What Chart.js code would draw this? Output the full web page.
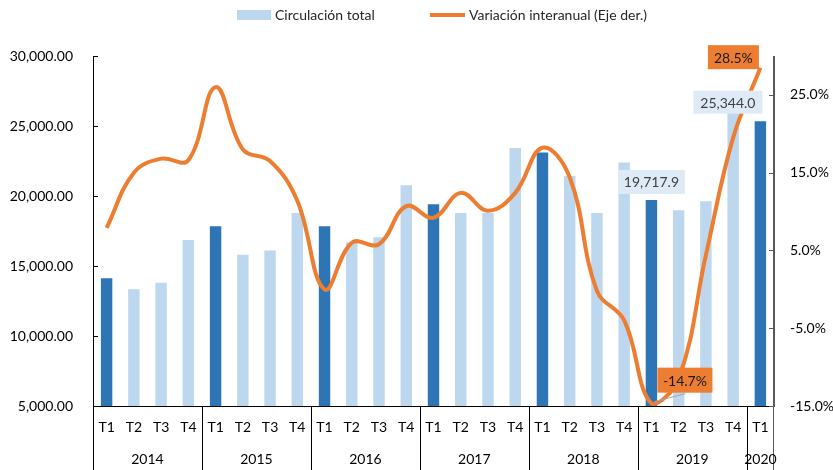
<!DOCTYPE html>
<html>
<head>
<meta charset="utf-8">
<script src="https://cdn.jsdelivr.net/npm/chart.js@4"></script>
<style>
  html, body { margin: 0; padding: 0; background: #fff; }
  #wrap { width: 833px; height: 470px; }
</style>
</head>
<body>
<div id="wrap"><canvas id="chart" width="833" height="470"></canvas></div>
<script>
// quarters per year, the last year only has T1
const years = ["2014", "2015", "2016", "2017", "2018", "2019", "2020"];
const quartersPerYear = [4, 4, 4, 4, 4, 4, 1];
const quarters = ["T1", "T2", "T3", "T4", "T1", "T2", "T3", "T4", "T1", "T2", "T3", "T4",
  "T1", "T2", "T3", "T4", "T1", "T2", "T3", "T4", "T1", "T2", "T3", "T4", "T1"];

// Circulación total (left axis)
const circulacion = [14120, 13340, 13810, 16860, 17840, 15810, 16100, 18790,
  17840, 16670, 17050, 20760, 19410, 18790, 18790, 23430,
  23110, 21430, 18790, 22390, 19717.9, 18980, 19620, 26750, 25344.0];

// Variación interanual % (right axis)
const variacion = [7.9, 15.0, 16.8, 16.6, 26.0, 18.0, 16.5, 11.4,
  0.0, 6.0, 5.8, 10.7, 9.2, 12.4, 10.1, 12.4,
  18.2, 14.4, -0.2, -4.0, -14.7, -11.5, 4.4, 19.5, 28.5];

const leftTicks = [5000, 10000, 15000, 20000, 25000, 30000];
const rightTicks = [-15, -5, 5, 15, 25];

const DARK = "#2E75B6", LIGHT = "#BDD7EE", ORANGE = "#ED7D31";
const FONT = "Lato, 'Open Sans', sans-serif";

const barColors = quarters.map(q => q === "T1" ? DARK : LIGHT);

function boxLabel(ctx, text, cx, cy, w, h, fill, color) {
  ctx.fillStyle = fill;
  ctx.fillRect(cx - w / 2, cy - h / 2, w, h);
  ctx.fillStyle = color;
  ctx.textAlign = "center";
  ctx.textBaseline = "middle";
  ctx.fillText(text, cx, cy + 1);
}

const extras = {
  id: "extras",
  afterDraw(chart) {
    const ctx = chart.ctx;
    const x = chart.scales.x, y = chart.scales.y, y1 = chart.scales.y1;
    const area = chart.chartArea;
    ctx.save();
    ctx.font = "14px " + FONT;

    // legend
    ctx.fillStyle = LIGHT;
    ctx.fillRect(237, 10, 34, 10);
    ctx.fillStyle = "#262626";
    ctx.textAlign = "left";
    ctx.textBaseline = "middle";
    ctx.fillText("Circulación total", 275, 15);
    ctx.strokeStyle = ORANGE;
    ctx.lineWidth = 4;
    ctx.beginPath();
    ctx.moveTo(430, 15);
    ctx.lineTo(465, 15);
    ctx.stroke();
    ctx.fillStyle = "#262626";
    ctx.fillText("Variación interanual (Eje der.)", 469, 15);

    // axis lines going down through the category area, and inner tick marks
    ctx.lineWidth = 1;
    ctx.strokeStyle = "#000";
    ctx.beginPath();
    ctx.moveTo(area.left + 0.5, area.top);
    ctx.lineTo(area.left + 0.5, chart.height);
    leftTicks.forEach(v => {
      const py = Math.round(y.getPixelForValue(v)) + 0.5;
      ctx.moveTo(area.left, py);
      ctx.lineTo(area.left + 5, py);
    });
    ctx.stroke();

    ctx.strokeStyle = "#595959";
    ctx.beginPath();
    ctx.moveTo(area.right - 0.5, area.top);
    ctx.lineTo(area.right - 0.5, chart.height);
    rightTicks.forEach(v => {
      const py = Math.round(y1.getPixelForValue(v)) + 0.5;
      ctx.moveTo(area.right - 5, py);
      ctx.lineTo(area.right, py);
    });
    ctx.stroke();

    // year separators and year labels
    const step = (area.right - area.left) / quarters.length;
    ctx.strokeStyle = "#000";
    ctx.fillStyle = "#000";
    ctx.textAlign = "center";
    let idx = 0;
    years.forEach((yr, i) => {
      const x0 = area.left + idx * step;
      const x1 = x0 + quartersPerYear[i] * step;
      if (i > 0) {
        ctx.beginPath();
        ctx.moveTo(Math.round(x0) + 0.5, area.bottom);
        ctx.lineTo(Math.round(x0) + 0.5, chart.height);
        ctx.stroke();
      }
      ctx.fillText(yr, (x0 + x1) / 2, 459);
      idx += quartersPerYear[i];
    });

    // data labels
    const i19 = 20, i20 = 24;
    const bx19 = x.getPixelForValue(i19), by19 = y.getPixelForValue(circulacion[i19]);
    boxLabel(ctx, circulacion[i19].toLocaleString("en-US", { minimumFractionDigits: 1 }),
      bx19, by19 - 18, 67, 24, "#DEEBF7", "#404040");
    const bx20 = x.getPixelForValue(i20), by20 = y.getPixelForValue(circulacion[i20]);
    boxLabel(ctx, circulacion[i20].toLocaleString("en-US", { minimumFractionDigits: 1 }),
      bx20 - 32.5, by20 - 19, 69, 23, "#DEEBF7", "#404040");

    const ly19 = y1.getPixelForValue(variacion[i19]);
    ctx.strokeStyle = "#A6A6A6";
    ctx.lineWidth = 1;
    ctx.beginPath();
    ctx.moveTo(bx19 + 3, ly19 - 2);
    ctx.lineTo(bx19 + 34, ly19 - 10);
    ctx.stroke();
    boxLabel(ctx, variacion[i19].toFixed(1) + "%", bx19 + 33.5, ly19 - 23.5, 55, 25, ORANGE, "#1a1a1a");
    const ly20 = y1.getPixelForValue(variacion[i20]);
    boxLabel(ctx, variacion[i20].toFixed(1) + "%", bx20 - 27, ly20 - 10.5, 51, 24, ORANGE, "#1a1a1a");
    ctx.restore();
  }
};

new Chart(document.getElementById("chart"), {
  data: {
    labels: quarters,
    datasets: [
      {
        type: "line",
        label: "Variación interanual (Eje der.)",
        data: variacion,
        yAxisID: "y1",
        borderColor: ORANGE,
        borderWidth: 4,
        pointRadius: 0,
        tension: 0.4,
        clip: false,
        order: 0
      },
      {
        type: "bar",
        label: "Circulación total",
        data: circulacion,
        yAxisID: "y",
        backgroundColor: barColors,
        categoryPercentage: 1,
        barPercentage: 0.42,
        order: 1
      }
    ]
  },
  options: {
    responsive: false,
    animation: false,
    devicePixelRatio: 1,
    layout: { padding: { top: 56, left: 0, right: 0, bottom: 0 } },
    plugins: { legend: { display: false }, tooltip: { enabled: false } },
    scales: {
      x: {
        grid: { display: false, drawTicks: false },
        border: { color: "#000", width: 1 },
        ticks: { color: "#000", font: { family: FONT, size: 14 }, padding: 13, maxRotation: 0, autoSkip: false },
        afterFit: s => { s.height = 64; }
      },
      y: {
        position: "left",
        min: 5000,
        max: 30000,
        grid: { display: false, drawTicks: false },
        border: { color: "#000", width: 1 },
        afterBuildTicks: s => { s.ticks = leftTicks.map(v => ({ value: v })); },
        ticks: {
          color: "#000",
          font: { family: FONT, size: 14 },
          padding: 20,
          callback: v => Number(v).toLocaleString("en-US", { minimumFractionDigits: 2, maximumFractionDigits: 2 })
        },
        afterFit: s => { s.width = 93; }
      },
      y1: {
        position: "right",
        min: -15,
        max: 30,
        grid: { display: false, drawTicks: false },
        border: { color: "#595959", width: 1 },
        afterBuildTicks: s => { s.ticks = rightTicks.map(v => ({ value: v })); },
        ticks: {
          color: "#000",
          font: { family: FONT, size: 14 },
          padding: 16,
          callback: v => Number(v).toFixed(1) + "%"
        },
        afterFit: s => { s.width = 59; }
      }
    }
  },
  plugins: [extras]
});
</script>
</body>
</html>
